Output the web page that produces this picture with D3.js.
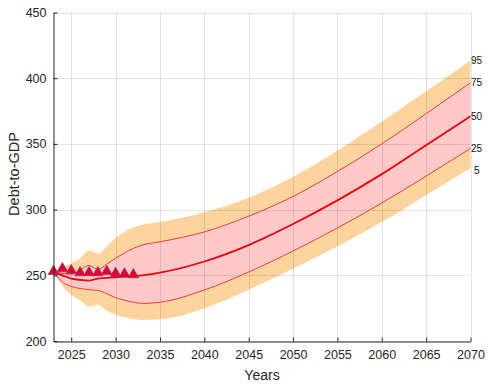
<!DOCTYPE html>
<html>
<head>
<meta charset="utf-8">
<script src="https://cdn.jsdelivr.net/npm/d3@7"></script>
<style>
  html, body { margin: 0; padding: 0; background: #fff; }
  svg { display: block; font-family: "Liberation Sans", Arial, Helvetica, sans-serif; }
</style>
</head>
<body>
<svg id="chart" width="488" height="387"></svg>
<script>
// ---- data ----
const years = [2023, 2024, 2025, 2026, 2027, 2028, 2029, 2030, 2031, 2032, 2033, 2035, 2040, 2045, 2050, 2055, 2060, 2065, 2070];
const p95 = [252.5, 256.5, 259, 263, 269, 266.5, 272, 278.5, 283, 286.5, 288.5, 290.5, 298, 309, 325, 345, 367, 390, 413.5];
const p75 = [252.5, 251.5, 251, 254, 257.5, 254.5, 258.5, 263, 267, 270.5, 273, 275.5, 283, 295, 310, 329, 350, 373, 396.5];
const p50 = [252.5, 250, 247.5, 246.5, 246, 247.5, 248, 248.5, 249, 249.5, 250, 252, 260.5, 273, 289, 307, 327, 349, 371];
const p25 = [252.5, 245, 241.5, 240, 239, 238.5, 236, 233, 231, 229.5, 228.6, 229.5, 238.8, 252.5, 268.5, 286, 305, 325.5, 346.5];
const p5  = [252.5, 242, 235, 231, 226, 227.5, 223, 220, 218, 216.5, 216, 216.5, 224.8, 239, 255, 272, 290.5, 311, 331.5];

const obsYears = [2023, 2024, 2025, 2026, 2027, 2028, 2029, 2030, 2031, 2032];
const obsValues = [253, 255, 253.5, 252, 252, 252, 253, 251.5, 251, 250.5];

const xTicks = [2025, 2030, 2035, 2040, 2045, 2050, 2055, 2060, 2065, 2070];
const yTicks = [200, 250, 300, 350, 400, 450];
const pctLabels = ["95", "75", "50", "25", "5"];
const pctSeries = [p95, p75, p50, p25, p5];

// ---- layout ----
const svg = d3.select("#chart");
const L = 53.5, R = 470.5, T = 12.5, B = 341;
const x = d3.scaleLinear().domain([2023, 2070]).range([L, R]);
const y = d3.scaleLinear().domain([200, 450]).range([B, T]);
const textCol = "#262626";

const rows = years.map((yr, i) => ({ yr, p95: p95[i], p75: p75[i], p50: p50[i], p25: p25[i], p5: p5[i] }));
const curve = d3.curveMonotoneX;

// bands
svg.append("path")
  .attr("d", d3.area().x(d => x(d.yr)).y0(d => y(d.p5)).y1(d => y(d.p95)).curve(curve)(rows))
  .attr("fill", "#FDD49E");
svg.append("path")
  .attr("d", d3.area().x(d => x(d.yr)).y0(d => y(d.p25)).y1(d => y(d.p75)).curve(curve)(rows))
  .attr("fill", "#FFC8C9");

// grid (drawn over bands, faint)
const grid = svg.append("g").attr("stroke", "#000").attr("stroke-opacity", 0.1).attr("stroke-width", 1);
xTicks.forEach(t => grid.append("line").attr("x1", Math.round(x(t)) + 0.5).attr("x2", Math.round(x(t)) + 0.5).attr("y1", T).attr("y2", B));
yTicks.forEach(t => grid.append("line").attr("x1", L).attr("x2", R).attr("y1", Math.round(y(t)) + 0.5).attr("y2", Math.round(y(t)) + 0.5));

// percentile lines
const lineGen = key => d3.line().x(d => x(d.yr)).y(d => y(d[key])).curve(curve)(rows);
svg.append("path").attr("d", lineGen("p75")).attr("fill", "none").attr("stroke", "#F03A3A").attr("stroke-width", 1);
svg.append("path").attr("d", lineGen("p25")).attr("fill", "none").attr("stroke", "#F03A3A").attr("stroke-width", 1);
svg.append("path").attr("d", lineGen("p50")).attr("fill", "none").attr("stroke", "#E8000B").attr("stroke-width", 1.8);

// observed / triangles
svg.append("g").selectAll("path").data(obsYears.map((yr, i) => ({ yr, v: obsValues[i] }))).join("path")
  .attr("transform", d => `translate(${x(d.yr)},${y(d.v)})`)
  .attr("d", d3.symbol().type(d3.symbolTriangle).size(50))
  .attr("fill", "#E60023")
  .attr("stroke", "#8A3A8E")
  .attr("stroke-width", 0.7);

// axes
const xAxis = d3.axisBottom(x).tickValues(xTicks).tickFormat(d3.format("d")).tickSizeInner(-4).tickSizeOuter(0).tickPadding(9);
const yAxis = d3.axisLeft(y).tickValues(yTicks).tickFormat(d3.format("d")).tickSizeInner(-4).tickSizeOuter(0).tickPadding(7);

const gx = svg.append("g").attr("transform", `translate(0,${B + 0.5})`).call(xAxis);
const gy = svg.append("g").attr("transform", `translate(${L},0)`).call(yAxis);
[gx, gy].forEach(g => {
  g.select(".domain").attr("stroke", textCol).attr("stroke-width", 1);
  g.selectAll(".tick line").attr("stroke", textCol);
  g.selectAll(".tick text").attr("fill", textCol).attr("font-size", "12.5px").attr("font-family", "Liberation Sans, Arial, sans-serif");
});

// axis labels
svg.append("text").attr("x", (L + R) / 2).attr("y", 380).attr("text-anchor", "middle")
  .attr("font-size", "14px").attr("fill", textCol).text("Years");
svg.append("text").attr("transform", `translate(18.5,174) rotate(-90)`).attr("text-anchor", "middle")
  .attr("font-size", "14.5px").attr("fill", textCol).text("Debt-to-GDP");

// percentile labels at the right end
const lastIdx = years.length - 1;
svg.append("g").selectAll("text").data(pctLabels).join("text")
  .attr("x", (d, i) => x(years[lastIdx]) + (d.length === 1 ? 3.5 : 0.5))
  .attr("y", (d, i) => y(pctSeries[i][lastIdx]) + (d.length === 1 ? 2 : 0))
  .attr("dy", "0.35em")
  .attr("font-size", "10px")
  .attr("fill", "#111")
  .text(d => d);
</script>
</body>
</html>
